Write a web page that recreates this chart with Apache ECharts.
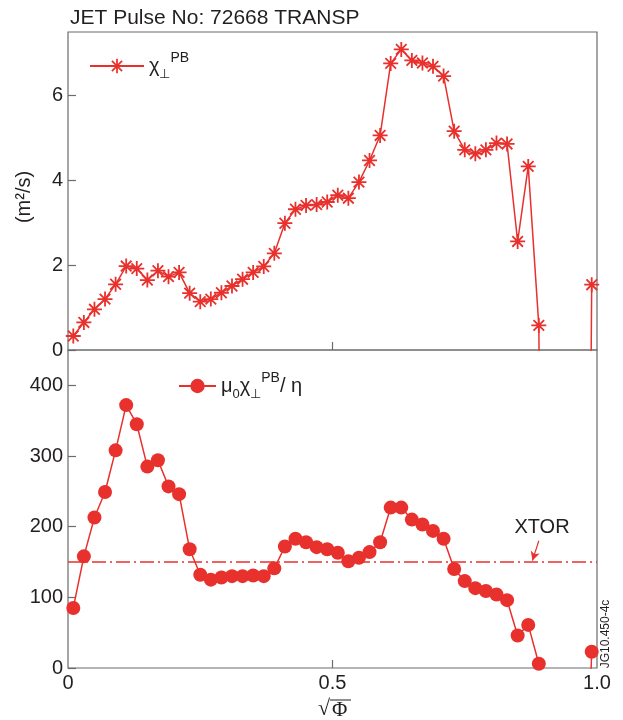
<!DOCTYPE html>
<html>
<head>
<meta charset="utf-8">
<script src="https://cdn.jsdelivr.net/npm/echarts@6/dist/echarts.min.js"></script>
<style>
  html, body { margin: 0; padding: 0; background: #ffffff; }
  #chart { width: 623px; height: 720px; }
</style>
</head>
<body>
<div id="chart"></div>
<script>
// Normalised radius sqrt(Phi) of each TRANSP output point
const rho = [
  0.01, 0.03, 0.05, 0.07, 0.09, 0.11, 0.13, 0.15, 0.17, 0.19,
  0.21, 0.23, 0.25, 0.27, 0.29, 0.31, 0.33, 0.35, 0.37, 0.39,
  0.41, 0.43, 0.45, 0.47, 0.49, 0.51, 0.53, 0.55, 0.57, 0.59,
  0.61, 0.63, 0.65, 0.67, 0.69, 0.71, 0.73, 0.75, 0.77, 0.79,
  0.81, 0.83, 0.85, 0.87, 0.89, 0.91, 0.93, 0.95, 0.97, 0.99
];

// Perpendicular diffusivity chi_perp^PB in m^2/s (0.91-0.97 fall below the axis)
const chiPB = [
  0.33, 0.65, 0.96, 1.20, 1.55, 1.98, 1.92, 1.65, 1.87, 1.73,
  1.83, 1.34, 1.14, 1.20, 1.35, 1.51, 1.67, 1.83, 1.97, 2.28,
  2.99, 3.32, 3.41, 3.43, 3.49, 3.65, 3.58, 3.96, 4.47, 5.06,
  6.76, 7.09, 6.83, 6.77, 6.69, 6.46, 5.16, 4.72, 4.63, 4.72,
  4.88, 4.86, 2.56, 4.33, 0.58, -25, -30, -28, -30, 1.54
];

// Normalised ratio mu0 * chi_perp^PB / eta (0.91-0.97 fall below the axis)
const muChiEta = [
  85, 158, 213, 249, 308, 372, 345, 285, 294, 257,
  246, 168, 132, 125, 128, 130, 130, 131, 130, 141,
  172, 183, 178, 171, 168, 163, 151, 156, 164, 178,
  227, 227, 210, 203, 194, 183, 140, 123, 113, 109,
  104, 96, 46, 61, 6, -400, -400, -400, -400, 23
];

// Reference level used by XTOR
const xtorLevel = 150;

// Axis ticks and labels
const xTicks = [0, 0.5, 1.0];
const xTickLabels = ['0', '0.5', '1.0'];
const chiTicks = [0, 2, 4, 6];
const ratioTicks = [0, 100, 200, 300, 400];

const RED = '#e8302c';
const FRAME = '#6b6b6b';
const INK = '#231f20';
const SANS = 'Liberation Sans, Arial, Helvetica, sans-serif';
const SERIF = 'Liberation Serif, DejaVu Serif, serif';

// Eight-ray asterisk built from four thin bars
const asterisk = 'path://' +
  'M-1.2,-10L1.2,-10L1.2,10L-1.2,10Z' +
  'M-10,-1.2L10,-1.2L10,1.2L-10,1.2Z' +
  'M-7.92,-6.22L-6.22,-7.92L7.92,6.22L6.22,7.92Z' +
  'M-7.92,6.22L6.22,-7.92L7.92,-6.22L-6.22,7.92Z';

const pairs = (ys) => rho.map((x, i) => [x, ys[i]]);

const richText = {
  g:   { fontSize: 20, fontFamily: SANS, color: INK, lineHeight: 30, verticalAlign: 'middle' },
  sub: { fontSize: 13, fontFamily: SANS, color: INK, verticalAlign: 'bottom', lineHeight: 30, padding: [10, 0, 0, 0] },
  sup: { fontSize: 14, fontFamily: SANS, color: INK, verticalAlign: 'top', lineHeight: 30, padding: [0, 0, 10, 0] }
};

const CHI_NAME = 'χ⊥PB';
const RATIO_NAME = 'μ0χ⊥PB/η';

function valueAxisX(gridIndex, showLabels) {
  return {
    type: 'value', gridIndex, min: 0, max: 1,
    axisLine: { show: false },
    splitLine: { show: false },
    axisTick: { show: true, inside: true, length: 8, customValues: [0.5], lineStyle: { color: FRAME, width: 1.2 } },
    axisLabel: {
      show: showLabels, customValues: xTicks, margin: 5,
      fontSize: 20, fontFamily: SANS, color: INK,
      formatter: (v) => xTickLabels[xTicks.indexOf(v)] ?? ''
    }
  };
}

function valueAxisY(gridIndex, max, ticks, name) {
  return {
    type: 'value', gridIndex, min: 0, max,
    axisLine: { show: false },
    splitLine: { show: false },
    axisTick: { show: true, inside: true, length: 8, customValues: ticks, lineStyle: { color: FRAME, width: 1.2 } },
    axisLabel: { customValues: ticks, margin: 5, fontSize: 20, fontFamily: SANS, color: INK },
    name: name || '',
    nameLocation: 'middle', nameRotate: 90, nameGap: 34,
    nameTextStyle: { fontSize: 20, fontFamily: SANS, color: INK, padding: [0, 12, 0, 0] }
  };
}

const chart = echarts.init(document.getElementById('chart'), null, { renderer: 'canvas' });

chart.setOption({
  animation: false,
  backgroundColor: '#ffffff',
  title: {
    text: 'JET Pulse No: 72668 TRANSP',
    left: 65, top: 3,
    textStyle: { fontSize: 21, fontWeight: 'normal', fontFamily: SANS, color: INK }
  },
  grid: [
    { left: 68, right: 26, top: 32, height: 318, show: true, borderColor: FRAME, borderWidth: 1.2, backgroundColor: 'transparent' },
    { left: 68, right: 26, top: 350, height: 318, show: true, borderColor: FRAME, borderWidth: 1.2, backgroundColor: 'transparent' }
  ],
  xAxis: [valueAxisX(0, false), valueAxisX(1, true)],
  yAxis: [valueAxisY(0, 7.5, chiTicks, '(m²/s)'), valueAxisY(1, 450, ratioTicks)],
  legend: [
    {
      data: [CHI_NAME], left: 84, top: 46, itemWidth: 54, itemHeight: 18, itemGap: 0,
      formatter: () => '{g|χ}{sub|⊥}{sup|PB}',
      textStyle: { rich: richText },
      selectedMode: false
    },
    {
      data: [RATIO_NAME], left: 173, top: 366, itemWidth: 37, itemHeight: 18, itemGap: 0,
      formatter: () => '{g|μ}{sub|0}{g|χ}{sub|⊥}{sup|PB}{g|/ η}',
      textStyle: { rich: richText },
      selectedMode: false
    }
  ],
  series: [
    {
      name: CHI_NAME, type: 'line', xAxisIndex: 0, yAxisIndex: 0,
      data: pairs(chiPB), clip: true, showAllSymbol: true,
      symbol: asterisk, symbolSize: 15,
      itemStyle: { color: RED },
      lineStyle: { color: RED, width: 1.5 },
      z: 3
    },
    {
      name: RATIO_NAME, type: 'line', xAxisIndex: 1, yAxisIndex: 1,
      data: pairs(muChiEta), clip: true, showAllSymbol: true,
      symbol: 'circle', symbolSize: 14,
      itemStyle: { color: RED },
      lineStyle: { color: RED, width: 1.5 },
      z: 3,
      markLine: {
        silent: true, symbol: 'none', animation: false,
        label: { show: false },
        data: [
          { yAxis: xtorLevel, lineStyle: { color: RED, width: 1.5, type: [14, 4, 2, 4] } },
          [
            { coord: [0.890, 180], symbol: 'none', lineStyle: { color: RED, width: 1.2, type: 'solid' } },
            { coord: [0.878, 152], symbol: 'arrow', symbolSize: [7, 9] }
          ]
        ]
      },
      markPoint: {
        silent: true, animation: false,
        symbol: 'circle', symbolSize: 0,
        label: { show: true, position: 'inside', formatter: 'XTOR', fontSize: 20, fontFamily: SANS, color: INK },
        data: [{ coord: [0.896, 199] }]
      }
    }
  ],
  graphic: [
    {
      type: 'text', x: 606, y: 634, rotation: Math.PI / 2,
      style: { text: 'JG10.450-4c', fontSize: 12, fontFamily: SANS, fill: INK, align: 'center', verticalAlign: 'middle' }
    },
    {
      type: 'group', x: 318, y: 698,
      children: [
        { type: 'text', x: 0, y: 0, style: { text: '√', fontSize: 22, fontFamily: SERIF, fill: INK } },
        { type: 'line', shape: { x1: 12, y1: 2, x2: 33, y2: 2 }, style: { stroke: INK, lineWidth: 1 } },
        { type: 'text', x: 14, y: 2, style: { text: 'Φ', fontSize: 21, fontFamily: SERIF, fill: INK } }
      ]
    }
  ]
});
</script>
</body>
</html>
